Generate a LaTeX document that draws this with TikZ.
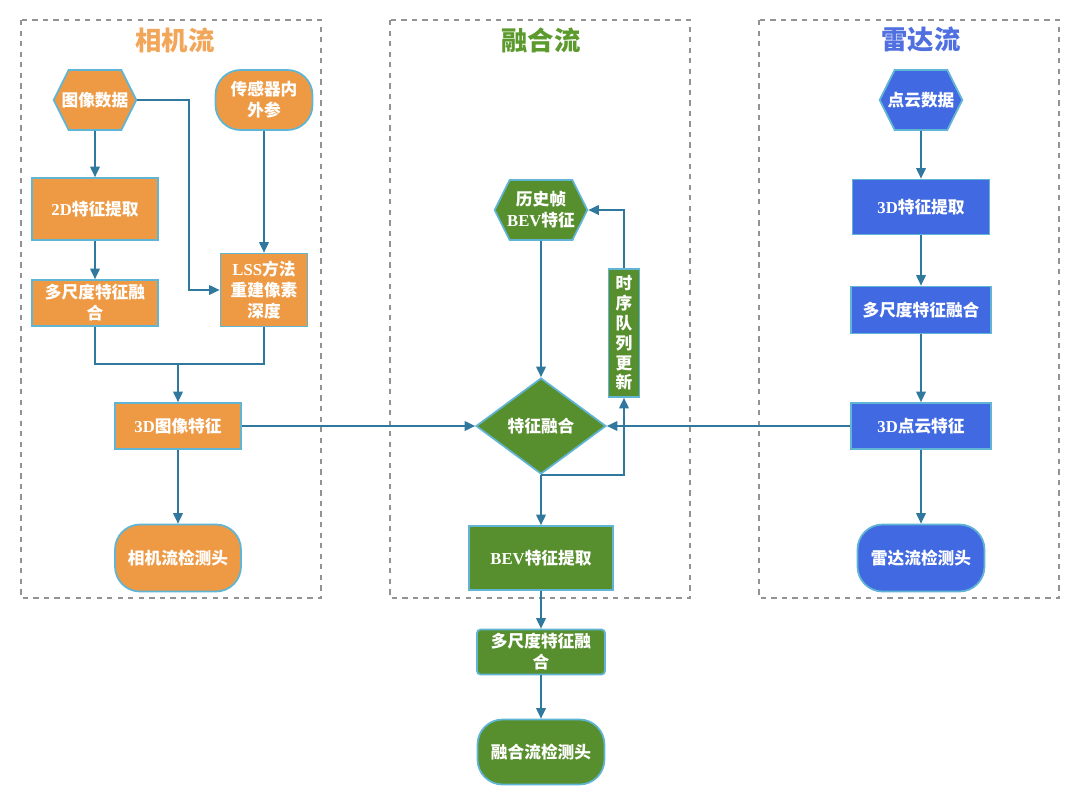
\documentclass[tikz,border=0pt]{standalone}
\usepackage{fontspec}
\setmainfont{Liberation Serif}
\newfontfamily\cjk{Noto Sans CJK SC}
\usetikzlibrary{arrows.meta,shapes.geometric,shapes.symbols,calc}
\definecolor{camfill}{RGB}{238,154,69}
\definecolor{fusfill}{RGB}{88,143,46}
\definecolor{radfill}{RGB}{65,105,225}
\definecolor{camtitle}{RGB}{242,166,90}
\definecolor{fustitle}{RGB}{92,154,46}
\definecolor{radtitle}{RGB}{80,112,224}
\definecolor{edgeblue}{RGB}{96,180,212}
\definecolor{linkblue}{RGB}{49,120,158}
\tikzset{
box/.style={draw=edgeblue, line width=1pt, text=white, align=center, inner sep=1pt,
  font=\bfseries\fontsize{9.5}{12}\selectfont},
cam/.style={box, fill=camfill},
fus/.style={box, fill=fusfill},
rad/.style={box, fill=radfill},
hexa/.style={signal, signal to=east and west, signal pointer angle=127, inner xsep=-4pt},
term/.style={rounded corners=0.5cm},
arr/.style={-{Triangle[length=6pt,width=5.5pt]}, line width=0.9pt, color=linkblue},
link/.style={line width=0.9pt, color=linkblue},
frame/.style={draw=gray!85, dashed, line width=0.8pt},
title/.style={font=\cjk\bfseries\fontsize{15}{18}\selectfont},
}

\begin{document}
\begin{tikzpicture}[x=0.02cm,y=-0.02cm]
        \useasboundingbox (0,0) rectangle (1080,806);
        \draw[frame] (21,20) rectangle (321,598);
        \draw[frame] (390,20) rectangle (690,598);
        \draw[frame] (759,20) rectangle (1059,598);
        \node[title, text=camtitle] (tcam) at (175,40) {相机流};
        \node[title, text=fustitle] (tfus) at (541,40) {融合流};
        \node[title, text=radtitle] (trad) at (921,40) {雷达流};

        \node[cam, hexa, minimum width=1.36cm, minimum height=1.2cm] (img) at (95,100) {\cjk 图像数据};
        \node[cam, term, minimum width=1.94cm, minimum height=1.2cm] (param) at (264,100) {\cjk 传感器内\\\cjk 外参};
        \node[cam, minimum width=2.52cm, minimum height=1.24cm] (ext2d) at (95,209) {2D\cjk 特征提取};
        \node[cam, minimum width=2.52cm, minimum height=0.92cm] (mscam) at (95,303) {\cjk 多尺度特征融\\\cjk 合};
        \node[cam, minimum width=1.74cm, minimum height=1.46cm] (lss) at (264,290) {LSS\cjk 方法\\\cjk 重建像素\\\cjk 深度};
        \node[cam, minimum width=2.52cm, minimum height=0.92cm] (img3d) at (178,426) {3D\cjk 图像特征};
        \node[cam, term, minimum width=2.52cm, minimum height=1.34cm] (headcam) at (178,558) {\cjk 相机流检测头};

        \node[fus, hexa, inner xsep=-1.4pt, minimum width=1.5cm, minimum height=1.2cm] (hist) at (541,210) {\cjk 历史帧\\BEV\cjk 特征};
        \node[fus, diamond, aspect=1.35, inner sep=0pt, minimum width=2.6cm, minimum height=1.92cm] (fuse) at (541,426) {\cjk 特征融合};
        \node[fus, minimum width=0.62cm, minimum height=2.56cm, font=\bfseries\fontsize{9.5}{11.3}\selectfont] (queue) at (624,333) {\cjk 时\\\cjk 序\\\cjk 队\\\cjk 列\\\cjk 更\\\cjk 新};
        \node[fus, minimum width=2.88cm, minimum height=1.28cm] (bev) at (541,558) {BEV\cjk 特征提取};
        \node[fus, rounded corners=2pt, minimum width=2.56cm, minimum height=0.9cm] (msfus) at (541,652) {\cjk 多尺度特征融\\\cjk 合};
        \node[fus, term, minimum width=2.54cm, minimum height=1.3cm] (headfus) at (541,752) {\cjk 融合流检测头};

        \node[rad, hexa, minimum width=1.34cm, minimum height=1.2cm] (pts) at (921,100) {\cjk 点云数据};
        \node[rad, minimum width=2.74cm, minimum height=1.1cm] (ext3d) at (921,207) {3D\cjk 特征提取};
        \node[rad, minimum width=2.8cm, minimum height=0.94cm] (msrad) at (921,310) {\cjk 多尺度特征融合};
        \node[rad, minimum width=2.8cm, minimum height=0.92cm] (pts3d) at (921,426) {3D\cjk 点云特征};
        \node[rad, term, minimum width=2.54cm, minimum height=1.34cm] (headrad) at (921,558) {\cjk 雷达流检测头};

        \coordinate (bend) at (189,100);
        \coordinate (join) at (178,364);
        \draw[arr] (img) -- (ext2d);
        \draw[arr] (ext2d) -- (mscam);
        \draw[arr] (img.east) -- (bend) |- (lss.west);
        \draw[arr] (param) -- (lss);
        \draw[link] (mscam.south) |- (join) -| (lss.south);
        \draw[arr] (join) -- (img3d);
        \draw[arr] (img3d) -- (headcam);
        \draw[arr] (img3d) -- (fuse);

        \draw[arr] (hist) -- (fuse);
        \draw[arr] (fuse.south) -| (queue.south);
        \draw[arr] (queue.north) |- (hist.east);
        \draw[arr] (fuse) -- (bev);
        \draw[arr] (bev) -- (msfus);
        \draw[arr] (msfus) -- (headfus);

        \draw[arr] (pts) -- (ext3d);
        \draw[arr] (ext3d) -- (msrad);
        \draw[arr] (msrad) -- (pts3d);
        \draw[arr] (pts3d) -- (headrad);
        \draw[arr] (pts3d) -- (fuse);
    \end{tikzpicture}
\end{document}
